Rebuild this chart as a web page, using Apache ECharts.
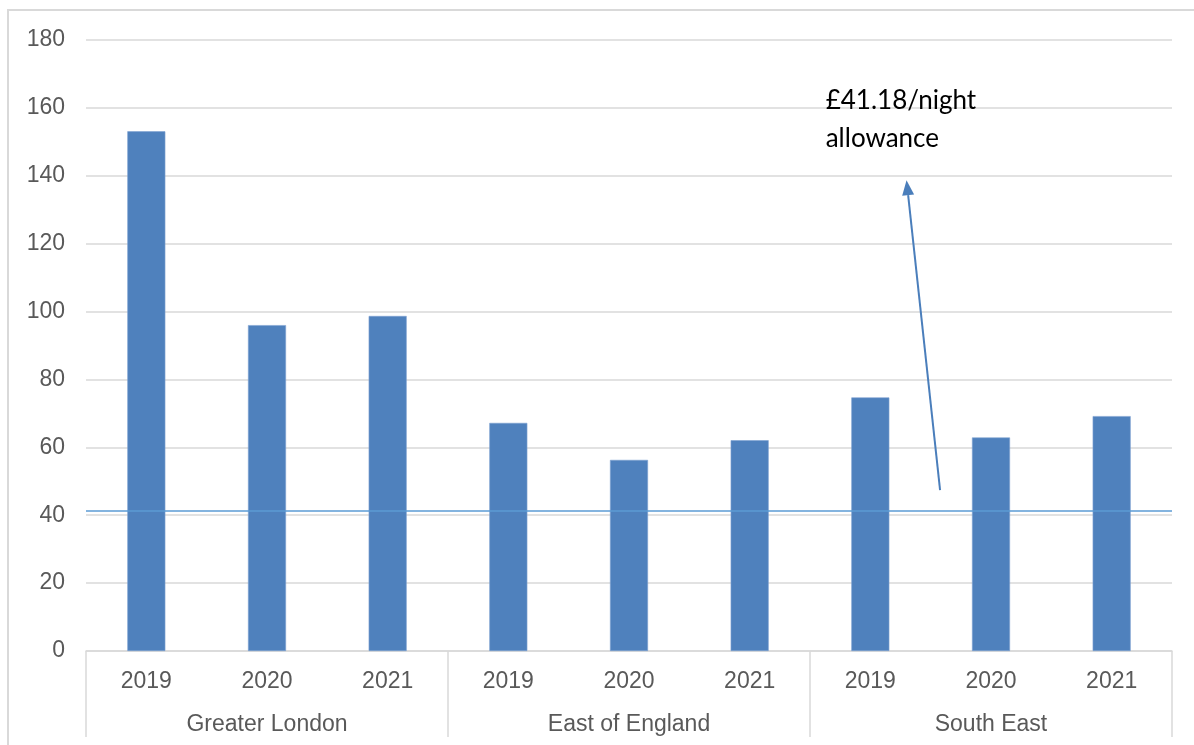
<!DOCTYPE html>
<html>
<head>
<meta charset="utf-8">
<script src="https://cdn.jsdelivr.net/npm/echarts@6/dist/echarts.min.js"></script>
<style>
  html, body { margin: 0; padding: 0; background: #fff; }
  #chart { width: 1194px; height: 745px; }
</style>
</head>
<body>
<div id="chart"></div>
<script>
// Average nightly cost by region and year
const regions = ['Greater London', 'East of England', 'South East'];
const years = ['2019', '2020', '2021'];
const greaterLondon = [153.1, 96.0, 98.7];
const eastOfEngland = [67.2, 56.3, 62.1];
const southEast = [74.7, 62.9, 69.2];
const allowance = 41.18;
const allowanceText = ['£41.18/night', 'allowance'];
const yTicks = { min: 0, max: 180, interval: 20 };

// flat category list: one slot per region/year pair
const yearLabels = [];
const values = [];
[greaterLondon, eastOfEngland, southEast].forEach(function (vals) {
  vals.forEach(function (v, i) { yearLabels.push(years[i]); values.push(v); });
});

const gray = '#d9d9d9';
const textGray = '#595959';
const font = 'Liberation Sans, Arial, sans-serif';

const chart = echarts.init(document.getElementById('chart'), null, { renderer: 'canvas' });

chart.setOption({
  animation: false,
  backgroundColor: '#fff',
  grid: { left: 86, right: 22, top: 40, bottom: 94, containLabel: false },
  xAxis: [
    {
      type: 'category',
      data: yearLabels,
      position: 'bottom',
      axisLine: { show: true, lineStyle: { color: gray, width: 1.5 } },
      axisTick: { show: false },
      axisLabel: { color: textGray, fontSize: 23, fontFamily: font, margin: 19, interval: 0 }
    },
    {
      type: 'category',
      data: regions,
      position: 'bottom',
      axisLine: { show: false },
      axisTick: { show: true, length: 86, lineStyle: { color: gray, width: 1.5 } },
      axisLabel: { color: textGray, fontSize: 23, fontFamily: font, margin: 62, interval: 0 },
      splitLine: { show: false }
    }
  ],
  yAxis: {
    type: 'value',
    min: yTicks.min,
    max: yTicks.max,
    interval: yTicks.interval,
    axisLine: { show: false },
    axisTick: { show: false },
    axisLabel: { color: textGray, fontSize: 23, fontFamily: font, margin: 21, padding: [4, 0, 0, 0] },
    splitLine: { lineStyle: { color: gray, width: 1.5 } }
  },
  series: [
    {
      type: 'bar',
      xAxisIndex: 0,
      data: values,
      barWidth: '31.5%',
      itemStyle: { color: '#4f81bd', borderColor: '#7da1d1', borderWidth: 0.6 },
      markLine: {
        silent: true,
        symbol: 'none',
        label: { show: false },
        lineStyle: { color: '#5b9bd5', width: 1.5, type: 'solid' },
        data: [{ yAxis: allowance }]
      }
    }
  ]
});

// annotation arrow and text, placed in data space between South East 2019 and 2020
function annotate() {
  const p6 = chart.convertToPixel({ xAxisIndex: 0 }, 6);
  const p7 = chart.convertToPixel({ xAxisIndex: 0 }, 7);
  const step = p7 - p6;
  const yPx = function (v) { return chart.convertToPixel({ yAxisIndex: 0 }, v); };
  const x0 = p6 + step * 0.578, y0 = yPx(47.4);
  const x1 = p6 + step * 0.30, y1 = yPx(138.7);
  const ang = Math.atan2(y1 - y0, x1 - x0);
  const headLen = 15, headHalf = 6;
  const bx = x1 - headLen * Math.cos(ang), by = y1 - headLen * Math.sin(ang);
  const nx = -Math.sin(ang), ny = Math.cos(ang);
  const tx = p6 - step * 0.37;
  const noteFont = '26px Lato, "Open Sans", sans-serif';
  chart.setOption({
    graphic: [
      {
        type: 'rect', silent: true, z: 0,
        shape: { x: 8, y: 10, width: 1300, height: 800 },
        style: { fill: 'none', stroke: gray, lineWidth: 2 }
      },
      {
        type: 'line', silent: true,
        shape: { x1: x0, y1: y0, x2: bx, y2: by },
        style: { stroke: '#4a7ebb', lineWidth: 2 }
      },
      {
        type: 'polygon', silent: true,
        shape: { points: [[x1, y1], [bx + nx * headHalf, by + ny * headHalf], [bx - nx * headHalf, by - ny * headHalf]] },
        style: { fill: '#4a7ebb' }
      },
      {
        type: 'text', silent: true,
        style: { x: tx, y: yPx(162.2), text: allowanceText[0], font: noteFont, fill: '#000', verticalAlign: 'middle' }
      },
      {
        type: 'text', silent: true,
        style: { x: tx, y: yPx(151.0), text: allowanceText[1], font: noteFont, fill: '#000', verticalAlign: 'middle' }
      }
    ]
  });
}
annotate();
</script>
</body>
</html>
